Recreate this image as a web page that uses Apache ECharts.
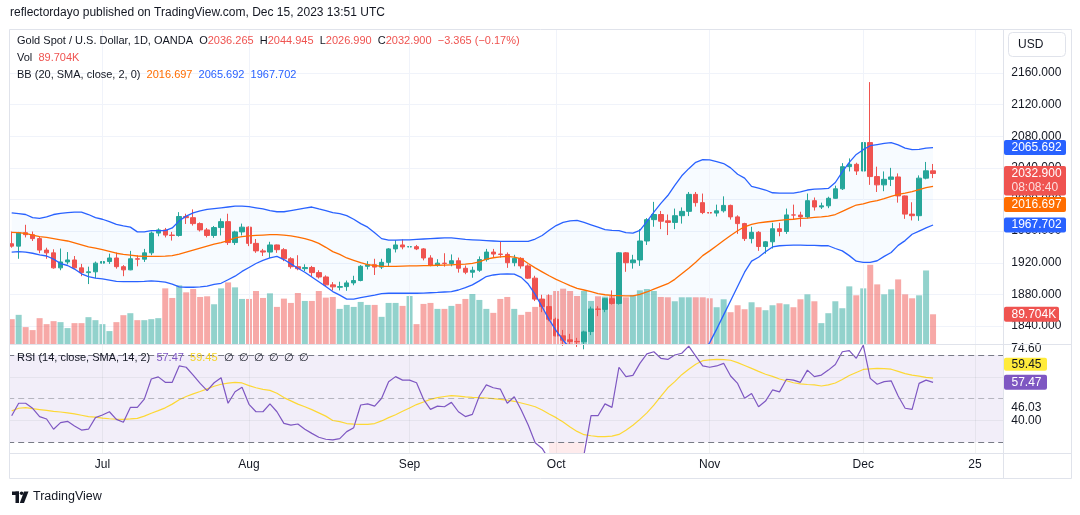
<!DOCTYPE html>
<html>
<head>
<meta charset="utf-8">
<script src="https://cdn.jsdelivr.net/npm/echarts@6.0.0/dist/echarts.min.js"></script>
<style>
  html, body { margin: 0; padding: 0; background: #fff; }
  #chart { width: 1080px; height: 515px; }
</style>
</head>
<body>
<div id="chart"></div>
<script>
const FONT = '"Liberation Sans", Arial, sans-serif';
const GREEN = '#26a69a';
const RED = '#ef5350';

// trading days Jun 14 .. Dec 15 2023, plus the empty future days on the axis
const dates = [];
for (let d = new Date(Date.UTC(2023, 5, 14)); d <= new Date(Date.UTC(2023, 11, 29)); d.setUTCDate(d.getUTCDate() + 1)) {
  const wd = d.getUTCDay();
  if (wd !== 0 && wd !== 6) dates.push(d.toISOString().slice(0, 10));
}
const tickDates = ['2023-07-03', '2023-08-01', '2023-09-01', '2023-10-02', '2023-11-01', '2023-12-01', '2023-12-25'];
const tickLabels = ['Jul', 'Aug', 'Sep', 'Oct', 'Nov', 'Dec', '25'];
const rsiTicks = [40, 46.03, 74.6];

const open = [1944,1941,1958,1955.5,1950.5,1936,1932.5,1913.5,1921,1923.5,
  1913.5,1907.5,1908.5,1919.5,1921.5,1926,1915,1911,1925,1924.5,
  1932.5,1957.5,1961.5,1955,1954.5,1978.5,1977,1969.5,1961.5,1954.5,
  1964.5,1972,1945.5,1959,1965,1944.5,1935,1933.5,1942.5,1936.5,
  1925,1915,1912.5,1914,1907.5,1902,1892,1889,1889.8,1894.5,
  1897.5,1915.5,1917.5,1914.5,1920.5,1937.5,1942.5,1940,1940.3,1937.5,
  1926,1916.5,1919.5,1919,1922.5,1913,1908,1910.5,1924,1933.5,
  1931,1930.5,1920,1925.5,1916,1900.5,1874,1864.5,1848.5,1827.5,
  1822.5,1820.5,1820,1833,1861.5,1861,1874.5,1868.5,1932.5,1920,
  1923.5,1947.5,1974.5,1981,1973,1971,1979.5,1985,2006.5,1996,
  1983.5,1982.8,1985.7,1992.5,1978,1969.5,1950.5,1958.5,1940.5,1946.5,
  1963,1959.5,1980.5,1980.3,1978,1998.5,1990.5,1992,2001.5,2013.5,
  2041.5,2044.5,2036,2072,2029,2018.5,2025.5,2028.5,2004.5,1981.5,
  1979.5,2027,2036.265];
const high = [1959.5,1959,1968,1959.5,1953,1939,1937,1938,1933.5,1928.5,
  1918.5,1915,1921.5,1929.5,1931.5,1933,1917,1935,1929.5,1937.5,
  1959.5,1963.5,1964,1959,1984,1982,1987.5,1971,1964,1966.5,
  1976,1982,1960.5,1969.5,1966,1950,1937.5,1946.5,1943,1938.5,
  1927,1929.5,1918,1916,1910.5,1904,1895.5,1896,1897.5,1903.5,
  1917,1922,1925,1925,1938.5,1948.5,1949.5,1953,1942.5,1938.5,
  1929.5,1924.5,1932,1930.5,1926.5,1916.5,1915,1928,1937.5,1937.5,
  1947.5,1933,1930,1927,1918,1903.5,1879.5,1880,1850.5,1835,
  1830,1825,1834,1864.5,1865,1875.5,1885,1933.5,1933.5,1930,
  1962.5,1976.5,1997,1985.5,1981,1988.5,1990,2009.5,2009.5,2007.5,
  1988,1993.5,2004,1993.5,1980,1970.5,1965.5,1960,1947.5,1970.5,
  1970.5,1988.5,1993.5,1984.5,2007.5,2002.5,1996,2003.5,2017.5,2046,
  2052,2046.5,2075,2148.5,2041.5,2035.5,2040,2033,2005,1996.5,
  2030.5,2047.5,2044.945];
const low = [1939,1925,1952,1947.5,1932,1925,1912.5,1910.5,1918,1912.5,
  1903,1893,1900.5,1912.5,1918.5,1912.5,1903,1910.5,1915.5,1921,
  1929.5,1953.5,1952,1948,1953,1969,1967,1959.5,1952,1951.5,
  1954.5,1942.5,1942.5,1954.5,1941,1932.5,1928.5,1926,1932.5,1922,
  1912.5,1910.5,1909.5,1902.5,1900,1890.5,1885,1885,1884.5,1891.5,
  1896.5,1911.5,1904.5,1912,1916,1933,1937,1931,1936,1923,
  1915.5,1915,1915,1915.5,1907.5,1905.5,1901,1908.5,1921.5,1926.5,
  1926.5,1913.5,1915.5,1912.5,1899.5,1871.5,1857.5,1846,1827,1815,
  1816,1813.5,1810.5,1828.5,1852.5,1857.5,1867,1867,1908.5,1912.5,
  1916,1942.5,1965.5,1962.5,1955,1962.5,1969.5,1979,1991,1981.5,
  1970,1978.5,1983.5,1974.5,1956.5,1947.5,1944.5,1935,1931.5,1938,
  1953.5,1956.5,1974.5,1965.5,1976,1986,1988,1989,2001,2012,
  2035.5,2031,2031.5,2018.5,2009.5,2010.5,2017,1996,1975.5,1973.5,
  1973,2025.5,2026.99];
const close = [1941,1958,1955.5,1950.5,1936,1932.5,1913.5,1921,1923.5,1913.5,
  1907.5,1908.5,1919.5,1921.5,1926,1915,1911,1925,1924.5,1932.5,
  1957.5,1961.5,1955,1954.5,1978.5,1977,1969.5,1961.5,1954.5,1964.5,
  1972,1945.5,1959,1965,1944.5,1935,1933.5,1942.5,1936.5,1925,
  1915,1912.5,1914,1907.5,1902,1892,1889.5,1889.8,1894.5,1897.5,
  1915.5,1917.5,1914.5,1920.5,1937.5,1942.5,1940,1940.3,1937.5,1926,
  1916.5,1919.5,1919,1922.5,1913,1908,1910.5,1924,1933.5,1931,
  1930.5,1920,1925.5,1916,1900.5,1874,1864.5,1848.5,1827.5,1822,
  1820.5,1820,1832.5,1861.5,1861,1874.5,1868.5,1932.5,1920,1923.5,
  1947.5,1974.5,1981,1972.5,1971,1979.5,1985,2006.5,1996,1983.5,
  1982.8,1985.7,1992.5,1978,1969.5,1950.5,1958.5,1940.5,1946.5,1963,
  1959.5,1980.5,1980.3,1978,1998.5,1990.5,1992,2001.5,2013.5,2041.5,
  2044.5,2036,2072,2029,2018.5,2025.5,2028.5,2004.5,1981.5,1979.5,
  2027,2036.265,2032.9];
// volume in thousands
const volume = [75,88,51,42,78,60,69,66,48,63,
  63,81,72,60,39,66,87,93,72,72,
  75,78,168,139,177,156,166,142,144,120,
  168,186,171,136,136,160,139,153,112,137,
  124,154,130,130,160,140,142,106,118,112,
  127,118,118,82,124,124,115,145,60,121,
  124,106,106,115,121,136,151,133,106,94,
  136,142,106,88,97,112,136,148,160,167,
  160,145,160,130,144,143,145,165,141,148,
  162,166,160,142,141,129,141,141,141,141,
  138,111,135,96,117,105,126,111,102,117,
  123,120,111,135,150,129,63,93,129,108,
  174,147,168,239,180,150,165,195,150,138,
  147,222,89.704];
const bbUpper = [1983,1982,1981,1977,1976,1978,1981,1982.5,1983.5,1984,
  1984,1981,1977,1975,1972,1968.5,1966.5,1965,1959,1959,
  1960.5,1960.5,1960.5,1964,1973,1979,1983,1985.5,1987.5,1988.5,
  1989.5,1990.5,1991.5,1991.5,1991,1989.5,1988,1986,1984.5,1984.5,
  1986,1987.5,1989,1990.5,1988,1986,1983.5,1982,1979.5,1975,
  1969.5,1965,1958,1950.5,1948.5,1948.5,1949,1949,1949.5,1950,
  1950.5,1951,1951.5,1951.5,1950.5,1949.5,1949,1948.5,1948,1947.5,
  1947,1947,1947,1947,1947,1950,1954.5,1961,1967,1971,
  1973,1973.5,1971,1968,1965,1962,1961,1960.5,1958,1957.5,
  1961,1972,1984,1995,2005,2018,2030,2039,2047,2050.5,
  2050,2048,2045.5,2040,2032,2027,2016.5,2014.5,2012,2008.5,
  2008,2008,2008,2009.5,2012,2013,2013.5,2014,2021.5,2035,
  2047,2057,2063,2068,2069.5,2071,2072,2069,2065,2063,
  2063.5,2065,2065.692];
const bbBasis = [1958.5,1958,1957,1955,1953,1952,1950.5,1949,1947.5,1945,
  1942.5,1940,1938.5,1936.5,1934.5,1932,1930.5,1929.5,1928.5,1928,
  1928,1928,1928.3,1929,1931,1933.5,1936,1938.5,1941,1943.5,
  1945.5,1948,1951.5,1953,1954,1954.5,1955,1955.5,1955.5,1955,
  1954,1952.5,1950.5,1948,1944.5,1939.5,1934,1930.5,1926,1923,
  1920,1917.5,1916.5,1915.5,1915.3,1915.5,1915.8,1916,1916.1,1916.3,
  1916.5,1916.8,1917,1917.4,1917.8,1918.3,1919.3,1921,1924.5,1926.3,
  1927.5,1928,1927,1925,1919,1913.5,1908.5,1903.5,1899,1895,
  1891,1887.5,1885.5,1883.5,1881,1879.5,1878.8,1878.4,1878,1878,
  1880,1883,1886.5,1890,1893.5,1899,1906,1913,1920.5,1929,
  1935,1941.5,1948,1954.5,1960.5,1965.5,1968.5,1970.5,1971.5,1972.5,
  1973.5,1974.5,1975,1976,1976.5,1977.3,1978,1979,1981,1985,
  1989,1993,1994.5,1997,1998.5,2001,2004,2006.5,2008,2010,
  2012.5,2015,2016.697];
const bbLower = [1933.5,1934,1933.5,1932,1930,1928.5,1924.5,1919,1916.5,1912,
  1906,1902.5,1900.5,1899.5,1898,1896.5,1896.2,1896.2,1896.2,1896.5,
  1897,1896.5,1895.5,1893,1889.5,1889,1889,1889.5,1890.5,1892.5,
  1894,1898.5,1903,1909,1914,1919,1923,1926,1928,1924,
  1918.5,1913,1908,1902,1896,1890,1883.5,1879,1874,1874,
  1876,1877.5,1879,1881,1881.4,1881.4,1881.4,1881.4,1881.4,1881.6,
  1882,1882.4,1883,1883.5,1885.5,1888.5,1892,1897,1902.5,1904.5,
  1905.5,1906,1905.5,1901.5,1893,1880,1864,1848,1834,1822,
  1812,1803,1800,1798,1797,1796,1796,1790,1785,1782,
  1778,1772,1768,1766,1766,1768,1772,1778,1790,1805,
  1819,1836,1854,1872,1890,1908,1922,1927,1934,1940,
  1941.5,1942,1942.3,1942.3,1942,1942,1941.5,1941.5,1938,1935,
  1929,1922,1920.5,1920.5,1922.5,1928,1933,1942,1948,1956,
  1960,1964,1967.702];
const rsi = [42.2,47.9,47.9,45.6,41.8,40.7,36,39,39.6,37.5,
  35.6,36,41.3,42.5,44,40.5,39.2,46,46,49.8,
  59,60,57.5,57.5,65,64.4,60.8,57,53.7,57.3,
  59.6,47.9,53.2,55.2,47.4,44,44,47.6,44,38.7,
  37.9,38.4,36,34.1,32.3,31.4,31.1,31.7,34.9,36.7,
  47.1,47.6,46.6,50.2,57.8,60.1,58.5,58.5,57.3,49.7,
  45.1,46.6,46.3,48.3,44,41.8,42.8,51.2,56.3,55,
  54.4,47.9,50.9,44.8,37.9,29.8,27.2,22,16,14,
  14,14,24.5,42.2,42.2,47.6,46,64.4,60.1,60.7,
  66.2,70.5,71.5,68.5,68,70,70.8,74.1,69.5,65,
  64.4,65,66.2,60.4,57,50.2,52.4,46.3,48.9,54,
  53.1,58.9,58.5,57.5,63.1,60.1,60.8,63.1,65.7,71.5,
  72,68.5,74.5,59.3,56.6,57.8,58.2,51.2,45.6,45.1,
  57,58.5,57.47];
const rsiMa = [44.4,45.6,45.9,45.4,45,44.6,44.2,43.9,43.5,43,
  42.4,41.8,41.5,41.1,40.8,40.6,40.5,40.7,41,42,
  43.3,44.5,45.8,47.5,49.5,51,52.2,53.3,54.5,55.7,
  56.6,57.1,57.5,57.2,56,55,54.3,53.8,52.5,50.5,
  49,47.5,46.3,45,43.5,42,40,39.5,38.6,38.3,
  38.2,38.2,38.6,39.8,41.3,42.6,44.2,45.7,47.3,48.5,
  49.7,50.5,51,51.4,51.2,50.8,50.6,50.5,50.3,50,
  49.7,49.3,48.8,48,47.2,46.3,44.8,43,41.3,39.3,
  37,35,33.5,33,32.6,32.6,32.8,33.6,35.5,37.8,
  40.5,43.5,47,51,55,57.8,61,63.5,65.8,67.4,
  67.8,68,67.9,67.6,66.5,65.2,63.9,62.5,61.2,60.2,
  59,58.2,57.3,56.8,56.5,56.3,55.8,56.3,57.2,58.8,
  60.6,62,63.4,63.7,63.9,63.8,63.5,62.5,61.5,60.8,
  60.3,59.8,59.45];

const last = close.length - 1;
const candleData = open.map((o, i) => [o, close[i], low[i], high[i]]);
const volData = volume.map((v, i) => ({
  value: v,
  itemStyle: { color: close[i] >= open[i] ? 'rgba(38,166,154,0.5)' : 'rgba(239,83,80,0.5)' }
}));
const bbWidth = bbUpper.map((u, i) => u - bbLower[i]);

const chg = close[last] - close[last - 1];
const pct = chg / close[last - 1] * 100;
const chgTxt = (chg < 0 ? '\u2212' : '+') + Math.abs(chg).toFixed(3) + ' (' + (pct < 0 ? '\u2212' : '+') + Math.abs(pct).toFixed(2) + '%)';

const LEFT = 8.2;
const STEP = 6.98;
const W = STEP * dates.length;

const rt = (size, color) => ({ fontSize: size, color: color, fontFamily: FONT });
const legendRich = {
  n: rt(11, '#131722'), r: rt(11, RED), o: rt(11, '#ff6d00'), b: rt(11, '#2962ff'),
  p: rt(11, '#7e57c2'), y: rt(11, '#f5d328'), e: { fontSize: 11, color: '#131722', width: 15, fontFamily: FONT }
};

const chart = echarts.init(document.getElementById('chart'));
chart.setOption({
  animation: false,
  backgroundColor: '#ffffff',
  textStyle: { fontFamily: FONT },
  title: [
    { left: 10, top: 7, padding: 0, text: 'reflectordayo published on TradingView.com, Dec 15, 2023 13:51 UTC',
      textStyle: { fontSize: 12, fontWeight: 'normal', color: '#131722', fontFamily: FONT } },
    { left: 17, top: 35, padding: 0,
      text: '{n|Gold Spot / U.S. Dollar, 1D, OANDA}  {n|O}{r|' + open[last].toFixed(3) + '}  {n|H}{r|' + high[last].toFixed(3) +
        '}  {n|L}{r|' + low[last].toFixed(3) + '}  {n|C}{r|' + close[last].toFixed(3) + '}  {r|' + chgTxt + '}',
      textStyle: { fontSize: 11, fontWeight: 'normal', fontFamily: FONT, rich: legendRich } },
    { left: 17, top: 52, padding: 0,
      text: '{n|Vol}  {r|' + volume[last].toFixed(3) + 'K}',
      textStyle: { fontSize: 11, fontWeight: 'normal', fontFamily: FONT, rich: legendRich } },
    { left: 17, top: 69, padding: 0,
      text: '{n|BB (20, SMA, close, 2, 0)}  {o|' + bbBasis[last].toFixed(3) + '}  {b|' + bbUpper[last].toFixed(3) + '}  {b|' + bbLower[last].toFixed(3) + '}',
      textStyle: { fontSize: 11, fontWeight: 'normal', fontFamily: FONT, rich: legendRich } },
    { left: 17, top: 352, padding: 0,
      text: '{n|RSI (14, close, SMA, 14, 2)}  {p|' + rsi[last].toFixed(2) + '}  {y|' + rsiMa[last].toFixed(2) + '}  {e|\u2205}{e|\u2205}{e|\u2205}{e|\u2205}{e|\u2205}{e|\u2205}',
      textStyle: { fontSize: 11, fontWeight: 'normal', fontFamily: FONT, rich: legendRich } },
    { left: 33, top: 490, padding: 0, text: 'TradingView',
      textStyle: { fontSize: 12.5, fontWeight: 'normal', color: '#131722', fontFamily: FONT } }
  ],
  grid: [
    { left: LEFT, top: 30, width: W, height: 314 },
    { left: LEFT, top: 73, width: W, height: 253 },
    { left: LEFT, top: 345, width: W, height: 108 }
  ],
  xAxis: [0, 1, 2].map(g => ({
    type: 'category', gridIndex: g, data: dates, boundaryGap: true,
    axisLine: { show: false }, axisTick: { show: false }, splitLine: { show: false },
    axisPointer: { show: false },
    axisLabel: g === 2 ? {
      show: true, margin: 6, color: '#131722', fontSize: 12, fontFamily: FONT,
      interval: (idx, val) => tickDates.includes(val),
      formatter: val => tickLabels[tickDates.indexOf(val)] || ''
    } : { show: false }
  })),
  yAxis: [
    { gridIndex: 0, type: 'value', min: 1817.2, max: 2214.4, show: false, splitLine: { show: false } },
    { gridIndex: 0, type: 'value', min: 0, max: 948, show: false, splitLine: { show: false } },
    { gridIndex: 1, type: 'value', min: 1840, max: 2160, interval: 40, position: 'right',
      axisLine: { show: false }, axisTick: { show: false }, axisLabel: { show: false },
      splitLine: { show: true, lineStyle: { color: '#f0f3fa', width: 1 } } },
    { gridIndex: 1, type: 'value', min: 1840, max: 2160, interval: 40, position: 'right', z: 60,
      axisLine: { show: false }, axisTick: { show: false }, splitLine: { show: false },
      axisLabel: { color: '#131722', fontSize: 12, margin: 5, fontFamily: FONT, formatter: v => v.toFixed(3) } },
    { gridIndex: 2, type: 'value', min: 25.1, max: 74.6, position: 'right', z: 60,
      axisLine: { show: false }, axisTick: { show: false }, splitLine: { show: false },
      axisLabel: {
        customValues: rsiTicks, color: '#131722', fontSize: 12, margin: 5, fontFamily: FONT,
        formatter: v => (v >= 74.6 ? '{t|' + v.toFixed(2) + '}' : v.toFixed(2)),
        rich: { t: { padding: [8, 0, 0, 0], fontSize: 12, color: '#131722', fontFamily: FONT } }
      } }
  ],
  series: [
    // vertical grid lines of the price pane
    { type: 'line', xAxisIndex: 0, yAxisIndex: 0, data: [], z: 0, silent: true,
      markLine: { silent: true, symbol: 'none', label: { show: false },
        lineStyle: { color: '#f0f3fa', width: 1, type: 'solid' },
        data: tickDates.map(d => ({ xAxis: d })) } },
    // BB background
    { type: 'line', xAxisIndex: 0, yAxisIndex: 0, data: bbLower, stack: 'bb', symbol: 'none',
      lineStyle: { width: 0 }, z: 1, silent: true },
    { type: 'line', xAxisIndex: 0, yAxisIndex: 0, data: bbWidth, stack: 'bb', symbol: 'none',
      lineStyle: { width: 0 }, areaStyle: { color: 'rgba(33,150,243,0.05)' }, z: 1, silent: true },
    // volume
    { type: 'bar', xAxisIndex: 0, yAxisIndex: 1, data: volData, barWidth: 6, z: 2, silent: true },
    // candles
    { type: 'candlestick', xAxisIndex: 0, yAxisIndex: 0, data: candleData, barWidth: 5, z: 4,
      itemStyle: { color: GREEN, color0: RED, borderColor: GREEN, borderColor0: RED, borderWidth: 1 } },
    // BB lines
    { type: 'line', xAxisIndex: 0, yAxisIndex: 0, data: bbUpper, symbol: 'none', z: 5, silent: true,
      lineStyle: { color: '#2962ff', width: 1.3 } },
    { type: 'line', xAxisIndex: 0, yAxisIndex: 0, data: bbLower, symbol: 'none', z: 5, silent: true,
      lineStyle: { color: '#2962ff', width: 1.3 } },
    { type: 'line', xAxisIndex: 0, yAxisIndex: 0, data: bbBasis, symbol: 'none', z: 5, silent: true,
      lineStyle: { color: '#ff6d00', width: 1.3 } },
    // RSI pane background, levels, grid lines
    { type: 'line', xAxisIndex: 2, yAxisIndex: 4, data: [], z: 0, silent: true,
      markArea: { silent: true, data: [
        [{ yAxis: 30, itemStyle: { color: 'rgba(126,87,194,0.1)' } }, { yAxis: 70 }],
        [{ xAxis: dates[77], yAxis: 25.1, itemStyle: { color: 'rgba(242,54,69,0.1)' } }, { xAxis: dates[82], yAxis: 30 }]
      ] },
      markLine: { silent: true, symbol: 'none', label: { show: false }, data: [
        ...tickDates.map(d => ({ xAxis: d, lineStyle: { color: 'rgba(42,46,57,0.06)', type: 'solid', width: 1 } })),
        { yAxis: 40, lineStyle: { color: 'rgba(42,46,57,0.06)', type: 'solid', width: 1 } },
        { yAxis: 60, lineStyle: { color: 'rgba(42,46,57,0.06)', type: 'solid', width: 1 } },
        { yAxis: 70, lineStyle: { color: '#787b86', type: [6, 4], width: 1 } },
        { yAxis: 50, lineStyle: { color: 'rgba(120,123,134,0.5)', type: [6, 4], width: 1 } },
        { yAxis: 30, lineStyle: { color: '#787b86', type: [6, 4], width: 1 } }
      ] } },
    { type: 'line', xAxisIndex: 2, yAxisIndex: 4, data: rsiMa, symbol: 'none', z: 3, silent: true,
      lineStyle: { color: '#fdd835', width: 1.2 } },
    { type: 'line', xAxisIndex: 2, yAxisIndex: 4, data: rsi, symbol: 'none', z: 4, silent: true,
      lineStyle: { color: '#7e57c2', width: 1.2 } }
  ]
});

// frame, scale tags and logo
const py = v => chart.convertToPixel({ yAxisIndex: 0 }, v);
const vy = v => chart.convertToPixel({ yAxisIndex: 1 }, v);
const ry = v => chart.convertToPixel({ yAxisIndex: 4 }, v);
const TAGX = 1004;

function txt(x, y, text, color, size) {
  return { type: 'text', x: x, y: y, z: 71,
    style: { text: text, fill: color, font: (size || 12) + 'px ' + FONT,
      textVerticalAlign: 'middle', verticalAlign: 'middle', textAlign: 'left', align: 'left' } };
}
function box(x, y, w, h, fill, z) {
  return { type: 'rect', z: z || 70, shape: { x: x, y: y, width: w, height: h, r: 2 }, style: { fill: fill } };
}
function hline(y, x1, x2) {
  return { type: 'line', z: 80, shape: { x1: x1, y1: y, x2: x2, y2: y }, style: { stroke: '#e0e3eb', lineWidth: 1 } };
}
function vline(x, y1, y2) {
  return { type: 'line', z: 80, shape: { x1: x, y1: y1, x2: x, y2: y2 }, style: { stroke: '#e0e3eb', lineWidth: 1 } };
}

const els = [];
// masks outside the panes
els.push({ type: 'rect', z: 50, shape: { x: 1004, y: 30, width: 67, height: 448 }, style: { fill: '#fff' } });
els.push({ type: 'rect', z: 50, shape: { x: 0, y: 30, width: 9.5, height: 448 }, style: { fill: '#fff' } });
// frame
els.push(hline(29.5, 9.5, 1071.5), hline(478.5, 9.5, 1071.5), hline(344.5, 9.5, 1071.5), hline(453.5, 9.5, 1071.5));
els.push(vline(9.5, 29.5, 478.5), vline(1071.5, 29.5, 478.5), vline(1003.5, 29.5, 478.5));
// currency button
els.push({ type: 'rect', z: 70, shape: { x: 1008.5, y: 32.5, width: 57, height: 24, r: 4 }, style: { fill: '#fff', stroke: '#e0e3eb', lineWidth: 1 } });
els.push(txt(1018, 44.5, 'USD', '#131722', 12));

// price tags
let y = py(bbUpper[last]);
els.push(box(TAGX, y - 7.5, 62, 15, '#2962ff'), txt(1011.5, y, bbUpper[last].toFixed(3), '#fff'));
y = py(close[last]);
els.push(box(TAGX, y - 7.5, 62, 29.5, RED), txt(1011.5, y, close[last].toFixed(3), '#fff'), txt(1011.5, y + 14.5, '08:08:40', 'rgba(255,255,255,0.8)'));
const redBottom = y + 22;
y = Math.max(py(bbBasis[last]), redBottom + 9);
els.push(box(TAGX, y - 7.5, 62, 15, '#ff6d00'), txt(1011.5, y, bbBasis[last].toFixed(3), '#fff'));
y = py(bbLower[last]);
els.push(box(TAGX, y - 7.5, 62, 15, '#2962ff'), txt(1011.5, y, bbLower[last].toFixed(3), '#fff'));
y = vy(volume[last]);
els.push(box(TAGX, y - 7.5, 55, 15, RED), txt(1011.5, y, volume[last].toFixed(3) + 'K', '#fff'));
// RSI tags
const yr = ry(rsi[last]);
els.push(box(TAGX, yr - 7.5, 43, 15, '#7e57c2'), txt(1011.5, yr, rsi[last].toFixed(2), '#fff'));
const ym = Math.min(ry(rsiMa[last]), yr - 18);
els.push(box(TAGX, ym - 6.5, 43, 13, '#ffeb3b'), txt(1011.5, ym, rsiMa[last].toFixed(2), '#131722'));

// TradingView logo mark
els.push({ type: 'rect', z: 70, shape: { x: 12, y: 491.5, width: 7, height: 3.5 }, style: { fill: '#131722' } });
els.push({ type: 'rect', z: 70, shape: { x: 15.5, y: 491.5, width: 3.5, height: 11.5 }, style: { fill: '#131722' } });
els.push({ type: 'circle', z: 70, shape: { cx: 21.6, cy: 493.3, r: 1.8 }, style: { fill: '#131722' } });
els.push({ type: 'polygon', z: 70, shape: { points: [[24, 491.5], [28.5, 491.5], [24, 503], [19.8, 503]] }, style: { fill: '#131722' } });

chart.setOption({ graphic: { elements: els } });
</script>
</body>
</html>
